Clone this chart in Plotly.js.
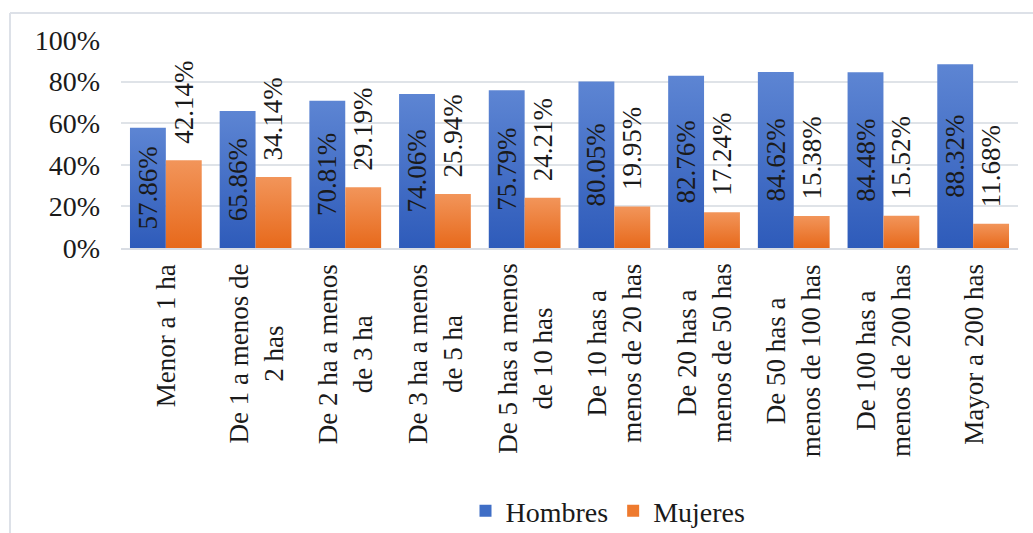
<!DOCTYPE html>
<html>
<head>
<meta charset="utf-8">
<script src="https://cdn.plot.ly/plotly-3.0.1.min.js"></script>
<style>
html,body{margin:0;padding:0;background:#fff;}
#chart{width:1033px;height:533px;}
</style>
</head>
<body>
<div id="chart"></div>
<script>
// ---- data ----
const categories = [
  "Menor a 1 ha",
  "De 1 a menos de<br>2 has",
  "De 2 ha a menos<br>de 3 ha",
  "De 3 ha a menos<br>de 5 ha",
  "De 5 has a menos<br>de 10 has",
  "De 10 has a<br>menos de 20 has",
  "De 20 has a<br>menos de 50 has",
  "De 50 has a<br>menos de 100 has",
  "De 100 has a<br>menos de 200 has",
  "Mayor a 200 has"
];
const catKeys = ["c0","c1","c2","c3","c4","c5","c6","c7","c8","c9"];
const hombres = [57.86, 65.86, 70.81, 74.06, 75.79, 80.05, 82.76, 84.62, 84.48, 88.32];
const mujeres = [42.14, 34.14, 29.19, 25.94, 24.21, 19.95, 17.24, 15.38, 15.52, 11.68];
const seriesNames = ["Hombres", "Mujeres"];
const yTickVals = [0, 0.2, 0.4, 0.6, 0.8, 1.0];
const yTickText = ["0%", "20%", "40%", "60%", "80%", "100%"];

const FONT = "Liberation Serif";
const TXT = "#1a1a1a";
const NBSP = "\u00a0";

const traces = [
  {
    type: "bar", name: seriesNames[0], x: catKeys, y: hombres.map(v => v / 100),
    marker: {color: "#3f6ec6"},
    text: hombres.map(v => v.toFixed(2) + "%"),
    textposition: "inside", insidetextanchor: "middle", textangle: -90,
    constraintext: "none",
    textfont: {family: FONT, size: 27, color: TXT},
    hoverinfo: "skip"
  },
  {
    type: "bar", name: seriesNames[1], x: catKeys, y: mujeres.map(v => v / 100),
    marker: {color: "#ee7a2e"},
    text: mujeres.map(v => NBSP + NBSP + v.toFixed(2) + "%"),
    textposition: "outside", textangle: -90,
    constraintext: "none", cliponaxis: false,
    textfont: {family: FONT, size: 27, color: TXT},
    hoverinfo: "skip"
  }
];

const annotations = catKeys.map((k, i) => ({
  x: k, y: 0, xref: "x", yref: "y",
  text: categories[i], showarrow: false,
  textangle: -90, align: "center",
  xanchor: "center", yanchor: "top", yshift: -14,
  font: {family: FONT, size: 27, color: TXT}
}));

const L = 121, R = 1018, T = 40, B = 248, W = 1033, H = 533;
const px = v => (v - L) / (R - L);
const py = v => (B - v) / (B - T);

const layout = {
  width: W, height: H,
  margin: {l: L, r: W - R, t: T, b: H - B, pad: 0, autoexpand: false},
  paper_bgcolor: "#ffffff", plot_bgcolor: "#ffffff",
  font: {family: FONT, color: TXT, size: 27},
  barmode: "group", bargap: 0.2, bargroupgap: 0,
  showlegend: true,
  legend: {
    orientation: "h", x: px(608), xanchor: "center", y: py(511), yanchor: "middle",
    font: {family: FONT, size: 28, color: TXT}, itemclick: false, itemdoubleclick: false,
    traceorder: "normal"
  },
  xaxis: {
    type: "category", showticklabels: false, showgrid: false,
    showline: true, linecolor: "#d9dde4", linewidth: 2, ticks: "", zeroline: false,
    fixedrange: true
  },
  yaxis: {
    range: [0, 1], tickvals: yTickVals, ticktext: yTickText,
    showgrid: true, gridcolor: "#dfe3e8", gridwidth: 2,
    zeroline: false, showline: false, ticks: "",
    ticklabelstandoff: 20,
    tickfont: {family: FONT, size: 28, color: TXT},
    fixedrange: true
  },
  annotations: annotations,
  shapes: [
    {type: "line", xref: "paper", yref: "paper", x0: px(10), x1: px(1040), y0: py(13), y1: py(13),
     line: {color: "#dde1e8", width: 2}},
    {type: "line", xref: "paper", yref: "paper", x0: px(10), x1: px(10), y0: py(13), y1: py(540),
     line: {color: "#dde1e8", width: 2}}
  ]
};

Plotly.newPlot("chart", traces, layout, {staticPlot: true, displayModeBar: false}).then(gd => {
  const svg = gd.querySelector("svg.main-svg");
  const ns = "http://www.w3.org/2000/svg";
  let defs = svg.querySelector("defs");
  if (!defs) { defs = document.createElementNS(ns, "defs"); svg.insertBefore(defs, svg.firstChild); }
  const mk = (id, top, bot) => {
    const g = document.createElementNS(ns, "linearGradient");
    g.setAttribute("id", id);
    g.setAttribute("x1", "0"); g.setAttribute("y1", "0");
    g.setAttribute("x2", "0"); g.setAttribute("y2", "1");
    [[0, top], [1, bot]].forEach(([o, c]) => {
      const s = document.createElementNS(ns, "stop");
      s.setAttribute("offset", o); s.setAttribute("stop-color", c);
      g.appendChild(s);
    });
    defs.appendChild(g);
  };
  mk("gBlue", "#5d85d3", "#2e5bba");
  mk("gOrange", "#f2955a", "#e7691b");
  const bars = gd.querySelectorAll(".barlayer .trace.bars");
  const ids = ["gBlue", "gOrange"];
  bars.forEach((t, i) => {
    t.querySelectorAll("path").forEach(p => { p.style.fill = "url(#" + ids[i] + ")"; });
  });
});
</script>
</body>
</html>
